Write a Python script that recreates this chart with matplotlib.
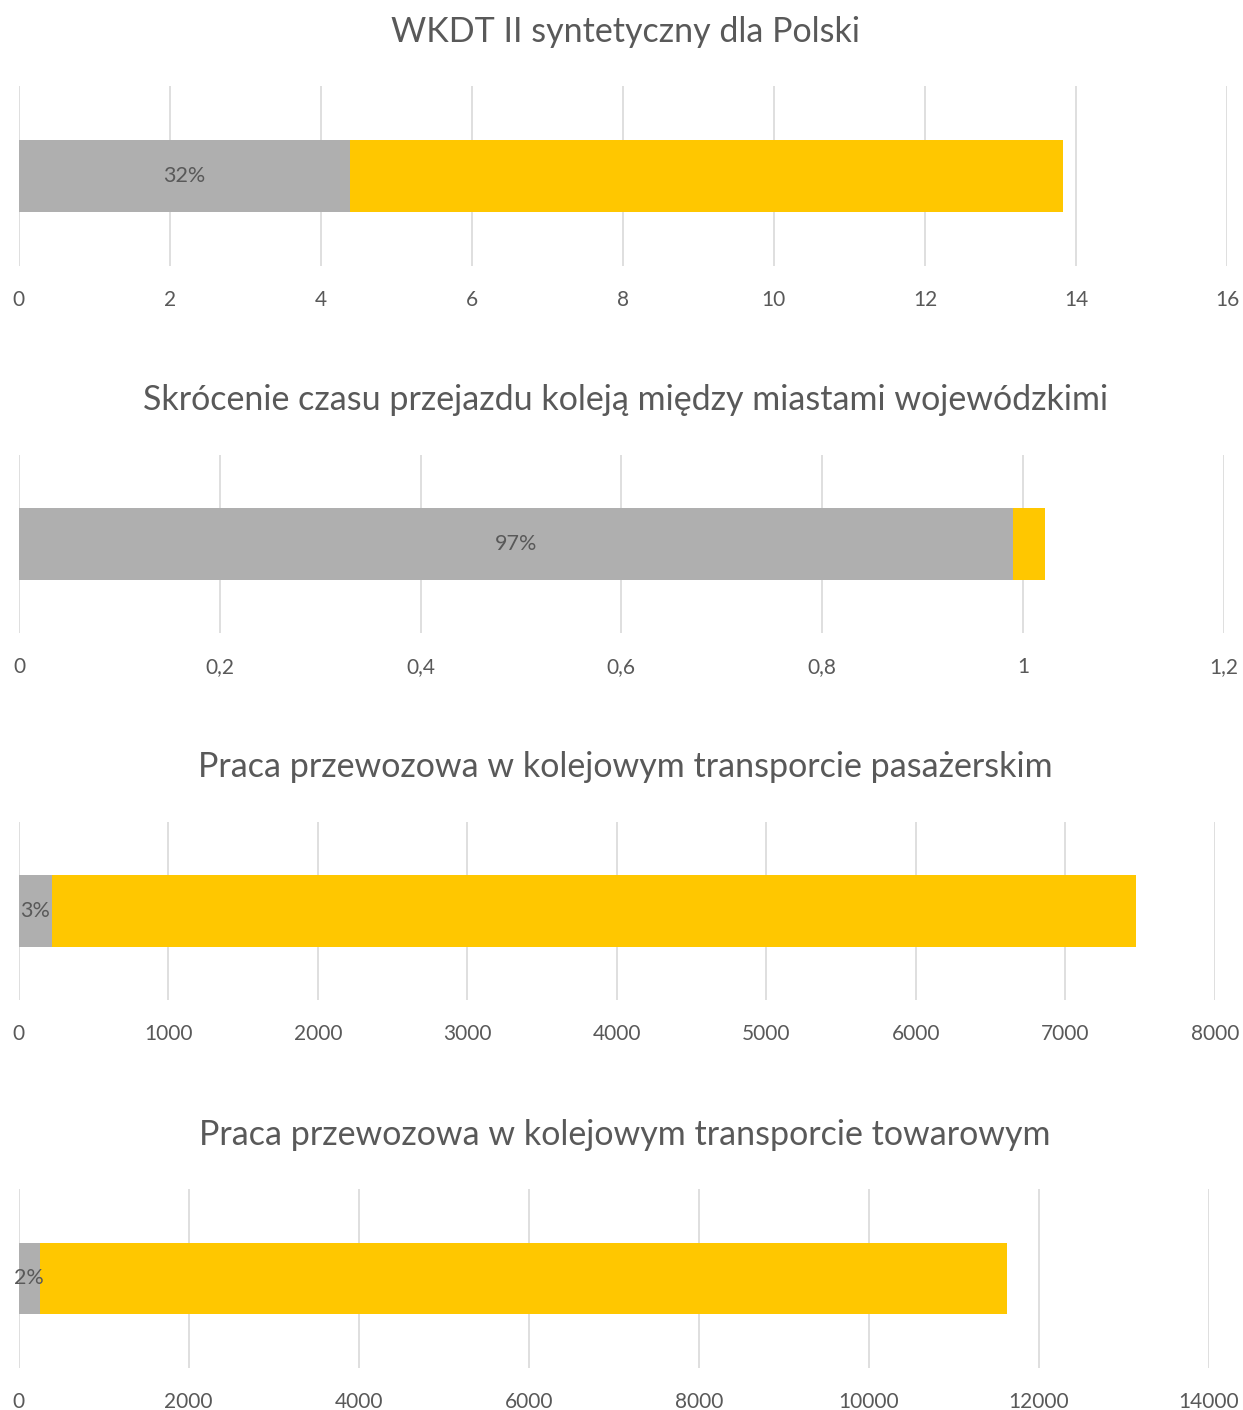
import matplotlib.pyplot as plt
from matplotlib.ticker import FuncFormatter, MultipleLocator

# udział (szary) i pozostała część (żółty) dla każdego wskaźnika
titles = [
    "WKDT II syntetyczny dla Polski",
    "Skrócenie czasu przejazdu koleją między miastami wojewódzkimi",
    "Praca przewozowa w kolejowym transporcie pasażerskim",
    "Praca przewozowa w kolejowym transporcie towarowym",
]
grey_vals = [4.39, 0.990, 220, 255]
yellow_vals = [9.44, 0.0315, 7251, 11370]
x_max = [16, 1.2, 8000, 14000]
x_step = [2, 0.2, 1000, 2000]

GREY = "#AFAFAF"
YELLOW = "#FFC700"
TEXT = "#595959"
GRID = "#D9D9D9"

plt.rcParams["font.family"] = ["Lato", "DejaVu Sans"]

W, H = 1243, 1410
fig = plt.figure(figsize=(W / 100, H / 100), dpi=100)

# położenie osi w pikselach: lewa, prawa, góra, dół
boxes = [
    (18.7, 1227, 86, 266),
    (19.0, 1223.7, 455, 633),
    (18.7, 1215, 822, 1000),
    (18.5, 1209, 1189, 1368),
]
title_y = [32, 400, 767, 1135]


def fmt(v, pos):
    return f"{v:g}".replace(".", ",")


for i in range(4):
    l, r, t, b = boxes[i]
    ax = fig.add_axes([l / W, 1 - b / H, (r - l) / W, (b - t) / H])
    g, yv = grey_vals[i], yellow_vals[i]
    ax.barh(0, g, height=1.0, color=GREY, zorder=3)
    ax.barh(0, yv, left=g, height=1.0, color=YELLOW, zorder=3)
    pct = g / (g + yv) * 100
    ax.text(g / 2, 0, f"{pct:.0f}%", ha="center", va="center",
            fontsize=15.5, color=TEXT, zorder=4)

    ax.set_xlim(0, x_max[i])
    ax.set_ylim(-1.25, 1.25)
    ax.xaxis.set_major_locator(MultipleLocator(x_step[i]))
    ax.xaxis.set_major_formatter(FuncFormatter(fmt))
    ax.set_yticks([])
    ax.grid(axis="x", color=GRID, linewidth=1.2, zorder=0)
    ax.tick_params(axis="x", length=0, pad=17, labelsize=15, labelcolor=TEXT)
    for s in ax.spines.values():
        s.set_visible(False)

    fig.text(0.503, 1 - title_y[i] / H, titles[i], ha="center", va="center",
             fontsize=24.5, color=TEXT)

fig.savefig("out.png", dpi=100, facecolor="white")
